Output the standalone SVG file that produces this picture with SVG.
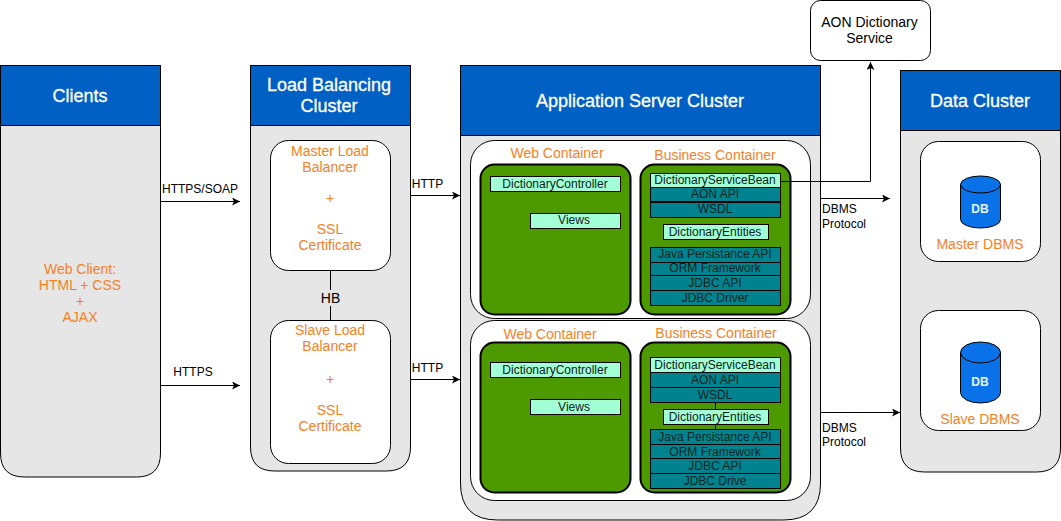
<svg xmlns="http://www.w3.org/2000/svg" width="1061" height="521" viewBox="0 0 1061 521">
<style>
text{font-family:"Liberation Sans",Arial,sans-serif;text-anchor:middle;fill:#000;font-size:12px}
.hd{fill:#0060c4;stroke:#000;stroke-width:1}
.body{fill:#e6e6e6;stroke:#000;stroke-width:1}
.in{fill:#fff;stroke:#000;stroke-width:1}
.hdt{fill:#fff;font-size:18px;stroke:#fff;stroke-width:.3}
.or{fill:#f5811f;font-size:14px}
.ct{fill:#4d9900;stroke:#000;stroke-width:2}
.lt{fill:#a3ffd6;stroke:#000;stroke-width:1}
.tl{fill:#00838f;stroke:#000;stroke-width:1}
.li{font-size:12px;fill:#0a2420}
.cn{fill:none;stroke:#000;stroke-width:1}
.db{fill:#0a72e8;stroke:#000;stroke-width:1}
.dbt{fill:#e6f2ff;font-weight:bold;font-size:12px}
.lb{font-size:12px}
.st{text-anchor:start}
.big{font-size:14px}
</style>
<defs><marker id="a" markerWidth="9" markerHeight="8" refX="8" refY="4" orient="auto" markerUnits="userSpaceOnUse"><path d="M0 0L8 4L0 8L2 4Z" fill="#000"/></marker></defs>
<g id="clients">
<path class="body" d="M0.500 125V453Q0.500 477 24.500 477H136.500Q160.500 477 160.500 453V125Z"/>
<rect class="hd" x="0.500" y="65.500" width="160" height="60"/>
<text class="hdt" x="80" y="102">Clients</text>
<text class="or" x="80" y="274">Web Client:</text><text class="or" x="80" y="290">HTML + CSS</text><text class="or" x="80" y="306">+</text><text class="or" x="80" y="322">AJAX</text>
</g>
<g id="lb">
<path class="body" d="M250.500 125V447Q250.500 471 274.500 471H386.500Q410.500 471 410.500 447V125Z"/>
<rect class="hd" x="250.500" y="65.500" width="160" height="60"/>
<text class="hdt" x="329" y="91">Load Balancing</text><text class="hdt" x="329" y="112">Cluster</text>
</g>
<g id="master-lb">
<rect class="in" x="270.500" y="140.500" width="120" height="130" rx="18"/>
<text class="or" x="330" y="156">Master Load</text><text class="or" x="330" y="172">Balancer</text><text class="or" x="330" y="203">+</text><text class="or" x="330" y="234">SSL</text><text class="or" x="330" y="250">Certificate</text>
</g>
<g id="slave-lb">
<rect class="in" x="270.500" y="320.500" width="120" height="143" rx="18"/>
<text class="or" x="330" y="335">Slave Load</text><text class="or" x="330" y="351">Balancer</text><text class="or" x="330" y="384">+</text><text class="or" x="330" y="415">SSL</text><text class="or" x="330" y="431">Certificate</text>
</g>
<g id="app">
<path class="body" d="M460.500 135V483Q460.500 520 497.500 520H783.500Q820.500 520 820.500 483V135Z"/>
<rect class="hd" x="460.500" y="65.500" width="360" height="70"/>
<text class="hdt" x="640" y="107">Application Server Cluster</text>
</g>
<g id="app-node-1">
<rect class="in" x="470.500" y="140.500" width="340" height="178" rx="24"/>
<text class="or" x="557" y="158">Web Container</text><text class="or" x="715" y="160">Business Container</text>
<rect class="ct" x="480.500" y="164.500" width="150" height="150" rx="14"/>
<rect class="ct" x="640.500" y="164.500" width="150" height="150" rx="14"/>
<rect class="lt" x="490.500" y="176.500" width="130" height="15"/><text class="li" x="555" y="188">DictionaryController</text>
<rect class="lt" x="530.500" y="213.500" width="90" height="15"/><text class="li" x="574" y="224">Views</text>
<rect class="lt" x="650.500" y="173.500" width="130" height="14"/><text class="li" x="715" y="184">DictionaryServiceBean</text>
<rect class="tl" x="650.500" y="187.500" width="130" height="14"/><text class="li" x="715" y="198">AON API</text>
<rect class="tl" x="650.500" y="202.500" width="130" height="15"/><text class="li" x="715" y="213">WSDL</text>
<rect class="lt" x="663.500" y="224.500" width="105" height="15"/><text class="li" x="715" y="236">DictionaryEntities</text>
<rect class="tl" x="650.500" y="247.500" width="130" height="15"/><text class="li" x="715" y="258">Java Persistance API</text>
<rect class="tl" x="650.500" y="262.500" width="130" height="13"/><text class="li" x="715" y="272">ORM Framework</text>
<rect class="tl" x="650.500" y="275.500" width="130" height="15"/><text class="li" x="715" y="287">JDBC API</text>
<rect class="tl" x="650.500" y="290.500" width="130" height="15"/><text class="li" x="715" y="302">JDBC Driver</text>
</g>
<g id="app-node-2">
<rect class="in" x="470.500" y="320.500" width="340" height="180" rx="24"/>
<text class="or" x="550" y="339">Web Container</text><text class="or" x="716" y="338">Business Container</text>
<rect class="ct" x="480.500" y="342.500" width="150" height="150" rx="14"/>
<rect class="ct" x="640.500" y="342.500" width="150" height="150" rx="14"/>
<rect class="lt" x="490.500" y="362.500" width="130" height="15"/><text class="li" x="555" y="374">DictionaryController</text>
<rect class="lt" x="530.500" y="399.500" width="90" height="15"/><text class="li" x="574" y="411">Views</text>
<path class="cn" d="M715.500 403V409M715.500 424V430"/>
<rect class="lt" x="650.500" y="357.500" width="130" height="15"/><text class="li" x="715" y="369">DictionaryServiceBean</text>
<rect class="tl" x="650.500" y="372.500" width="130" height="15"/><text class="li" x="715" y="384">AON API</text>
<rect class="tl" x="650.500" y="387.500" width="130" height="15"/><text class="li" x="715" y="399">WSDL</text>
<rect class="lt" x="663.500" y="409.500" width="105" height="15"/><text class="li" x="715" y="421">DictionaryEntities</text>
<rect class="tl" x="650.500" y="429.500" width="130" height="15"/><text class="li" x="715" y="441">Java Persistance API</text>
<rect class="tl" x="650.500" y="444.500" width="130" height="14"/><text class="li" x="715" y="456">ORM Framework</text>
<rect class="tl" x="650.500" y="458.500" width="130" height="15"/><text class="li" x="715" y="470">JDBC API</text>
<rect class="tl" x="650.500" y="473.500" width="130" height="15"/><text class="li" x="715" y="485">JDBC Drive</text>
</g>
<g id="data">
<path class="body" d="M900.500 130V448Q900.500 472 924.500 472H1036.500Q1060.500 472 1060.500 448V130Z"/>
<rect class="hd" x="900.500" y="70.500" width="160" height="60"/>
<text class="hdt" x="980" y="107">Data Cluster</text>
</g>
<g id="master-dbms">
<rect class="in" x="920.500" y="141.500" width="120" height="120" rx="18"/>
<path class="db" d="M960.500 184.500V219.500A20 8.500 0 0 0 1000.500 219.500V184.500A20 8.500 0 0 0 960.500 184.500A20 8.500 0 0 0 1000.500 184.500"/>
<text class="dbt" x="980" y="213">DB</text>
<text class="or" x="980" y="249">Master DBMS</text>
</g>
<g id="slave-dbms">
<rect class="in" x="920.500" y="310.500" width="120" height="120" rx="18"/>
<path class="db" d="M960.500 352.500V392.500A20 10.500 0 0 0 1000.500 392.500V352.500A20 10.500 0 0 0 960.500 352.500A20 10.500 0 0 0 1000.500 352.500"/>
<text class="dbt" x="980" y="386">DB</text>
<text class="or" x="980" y="424">Slave DBMS</text>
</g>
<g id="aon">
<rect class="in" x="810.500" y="0.500" width="120" height="60" rx="10"/>
<text class="big" x="869.500" y="27">AON Dictionary</text><text class="big" x="869.500" y="43">Service</text>
</g>
<g id="connectors">
<path class="cn" marker-end="url(#a)" d="M160.500 201.500H240"/>
<path class="cn" marker-end="url(#a)" d="M160.500 385.500H240"/>
<path class="cn" marker-end="url(#a)" d="M410.500 195.500H460"/>
<path class="cn" marker-end="url(#a)" d="M410.500 379.500H460"/>
<path class="cn" d="M330.500 270V290M330.500 306V320"/>
<path class="cn" marker-end="url(#a)" d="M780.500 181.500H870.500V62"/>
<path class="cn" marker-end="url(#a)" d="M820.500 198.500H890"/>
<path class="cn" marker-end="url(#a)" d="M820.500 412.500H900"/>
</g>
<g id="labels">
<text class="lb" x="200" y="193">HTTPS/SOAP</text><text class="lb" x="193" y="376">HTTPS</text>
<text class="lb" x="427.500" y="188">HTTP</text><text class="lb" x="427.500" y="372">HTTP</text>
<text class="big" x="330.500" y="303">HB</text>
<text class="lb st" x="822" y="213">DBMS</text><text class="lb st" x="822" y="228">Protocol</text>
<text class="lb st" x="822" y="432">DBMS</text><text class="lb st" x="822" y="446">Protocol</text>
</g>
</svg>
